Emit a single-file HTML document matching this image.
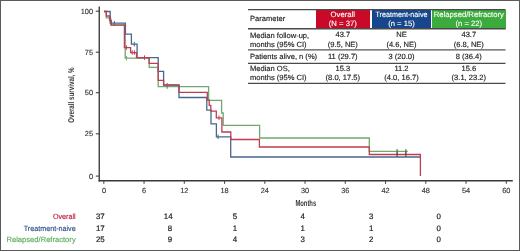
<!DOCTYPE html>
<html>
<head>
<meta charset="utf-8">
<style>
html,body{margin:0;padding:0;background:#fff;}
body{width:520px;height:251px;overflow:hidden;position:relative;}
svg{position:absolute;left:0;top:0;display:block;will-change:transform;}
text{font-family:"Liberation Sans",sans-serif;text-rendering:geometricPrecision;}
</style>
</head>
<body>
<svg width="520" height="251" viewBox="0 0 520 251">
  <rect x="0" y="0" width="520" height="251" fill="#fff"/>
  <!-- outer border -->
  <rect x="0.5" y="0.5" width="519" height="250" fill="none" stroke="#5a5a5a" stroke-width="1"/>

  <!-- axes -->
  <g stroke="#383838" fill="none">
    <line x1="99.25" y1="6.6" x2="99.25" y2="181.4" stroke-width="1.35"/>
    <line x1="98.6" y1="180.75" x2="512.8" y2="180.75" stroke-width="1.4"/>
  </g>
  <g stroke="#444" stroke-width="1.1" fill="none">
    <line x1="95.8" y1="11.2" x2="99" y2="11.2"/>
    <line x1="95.8" y1="52.2" x2="99" y2="52.2"/>
    <line x1="95.8" y1="92.7" x2="99" y2="92.7"/>
    <line x1="95.8" y1="133.8" x2="99" y2="133.8"/>
    <line x1="95.8" y1="176.1" x2="99" y2="176.1"/>
    <line x1="103.80" y1="181.2" x2="103.80" y2="183.8"/>
    <line x1="144.05" y1="181.2" x2="144.05" y2="183.8"/>
    <line x1="184.30" y1="181.2" x2="184.30" y2="183.8"/>
    <line x1="224.54" y1="181.2" x2="224.54" y2="183.8"/>
    <line x1="264.79" y1="181.2" x2="264.79" y2="183.8"/>
    <line x1="305.04" y1="181.2" x2="305.04" y2="183.8"/>
    <line x1="345.29" y1="181.2" x2="345.29" y2="183.8"/>
    <line x1="385.54" y1="181.2" x2="385.54" y2="183.8"/>
    <line x1="425.78" y1="181.2" x2="425.78" y2="183.8"/>
    <line x1="466.03" y1="181.2" x2="466.03" y2="183.8"/>
    <line x1="506.28" y1="181.2" x2="506.28" y2="183.8"/>
  </g>

  <!-- y tick labels -->
  <g font-size="7.4" fill="#333" stroke="#333" stroke-width="0.12" text-anchor="end">
    <text x="93" y="13.9">100</text>
    <text x="93" y="54.9">75</text>
    <text x="93" y="95.3">50</text>
    <text x="93" y="136.3">25</text>
    <text x="93" y="178.7">0</text>
  </g>
  <!-- x tick labels -->
  <g font-size="7.4" fill="#333" stroke="#333" stroke-width="0.12" text-anchor="middle">
    <text x="104" y="193.3">0</text>
    <text x="144" y="193.3">6</text>
    <text x="184.3" y="193.3">12</text>
    <text x="224.5" y="193.3">18</text>
    <text x="264.8" y="193.3">24</text>
    <text x="305" y="193.3">30</text>
    <text x="345.3" y="193.3">36</text>
    <text x="385.5" y="193.3">42</text>
    <text x="425.8" y="193.3">48</text>
    <text x="466" y="193.3">54</text>
    <text x="506.3" y="193.3">60</text>
  </g>

  <!-- axis titles -->
  <text x="0" y="0" font-size="8.4" font-weight="bold" fill="#3a3a3a" text-anchor="middle" transform="translate(74.2 95.1) rotate(-90) scale(0.745 1)">Overall survival, %</text>
  <text x="0" y="0" font-size="8.6" font-weight="bold" fill="#3a3a3a" text-anchor="middle" transform="translate(305.8 206.1) scale(0.68 1)">Months</text>

  <!-- KM curves -->
  <g fill="none" stroke-width="1.3" stroke-linejoin="miter">
    <path stroke="#70a870" d="M104,11.5 H106.3 V17.9 H110.6 V24.8 H125.2 V58.2 H149.2 V67.4 H158.2 V86.7 H208.6 V100.4 H221.6 V113 H223.2 V125.3 H259.6 V138 H369.3 V151.3 H407.8"/>
    <path stroke="#45698d" d="M104,11.5 H110.2 V23.2 H125.4 V34.2 H131.4 V44.2 H137.1 V57.6 H158.2 V71.4 H163.6 V85 H179 V97.5 H206.8 V110.2 H211 V123.9 H216.4 V136.8 H230.7 V157 H420"/>
    <path stroke="#bf3c54" d="M104,11.5 H106.3 V16 H109.6 V20.4 H111.4 V25.2 H124.4 V47.7 H130.6 V52.6 H136.5 V57.6 H149.1 V63.4 H158.2 V80.4 H163.6 V85.2 H179 V92.4 H207.3 V100.2 H209.2 V105.4 H210.8 V111.2 H216.3 V117.8 H221.9 V132 H230.8 V139.5 H259.4 V147 H369.3 V154.5 H420.4 V176"/>
  </g>
  <!-- censor ticks -->
  <g stroke-width="1">
    <g stroke="#70a870">
      <line x1="126.4" y1="56" x2="126.4" y2="60.4"/>
      <line x1="167.2" y1="84.6" x2="167.2" y2="89"/>
    </g>
    <g stroke="#3c5a3c">
      <line x1="397.1" y1="149.1" x2="397.1" y2="153.5"/>
      <line x1="405.9" y1="149.1" x2="405.9" y2="153.5"/>
    </g>
    <g stroke="#45698d">
      <line x1="114.4" y1="21" x2="114.4" y2="25.4"/>
      <line x1="134.3" y1="42" x2="134.3" y2="46.4"/>
      <line x1="218.1" y1="134.6" x2="218.1" y2="139"/>
    </g>
    <g stroke="#bf3c54">
      <line x1="126.4" y1="45.4" x2="126.4" y2="49.8"/>
            <line x1="132.2" y1="50.3" x2="132.2" y2="54.7"/>
      <line x1="134.4" y1="50.3" x2="134.4" y2="54.7"/>
      <line x1="144.5" y1="55.4" x2="144.5" y2="59.8"/>
      <line x1="167.2" y1="83" x2="167.2" y2="87.4"/>
      <line x1="219" y1="115.6" x2="219" y2="120"/>
      <line x1="397.1" y1="152.2" x2="397.1" y2="156.8" stroke="#6a2030"/>
      <line x1="405.9" y1="152.2" x2="405.9" y2="156.8" stroke="#6a2030"/>
    </g>
  </g>

  <!-- table -->
  <g shape-rendering="crispEdges">
    <rect x="315.5" y="9.5" width="54.5" height="19" fill="#c80a28"/>
    <rect x="372" y="9.5" width="59" height="19" fill="#16468c"/>
    <rect x="432" y="9.5" width="73.5" height="19" fill="#3caa3c"/>
  </g>
  <g stroke="#4a4a4a" fill="none">
    <line x1="248" y1="9.6" x2="505.5" y2="9.6" stroke-width="1.4"/>
    <line x1="248" y1="28.7" x2="505.5" y2="28.7" stroke-width="1.4"/>
    <line x1="248" y1="49.9" x2="505.5" y2="49.9" stroke-width="1.4" stroke="#555"/>
    <line x1="248" y1="63.4" x2="505.5" y2="63.4" stroke-width="1.2"/>
    <line x1="248" y1="83.4" x2="505.5" y2="83.4" stroke-width="1.3"/>
  </g>
  <g font-size="7.55" fill="#222" stroke="#222" stroke-width="0.15">
    <text x="250" y="20.7">Parameter</text>
    <text x="250" y="37.6">Median follow-up,</text>
    <text x="250" y="46.7">months (95% CI)</text>
    <text x="250" y="58.7">Patients alive, n (%)</text>
    <text x="250" y="70.8">Median OS,</text>
    <text x="250" y="80.2">months (95% CI)</text>
  </g>
  <g font-size="7.7" fill="#fff" stroke="#fff" stroke-width="0.12" text-anchor="middle">
    <text x="342.8" y="16.6">Overall</text>
    <text x="342.8" y="25.8">(N = 37)</text>
    <text x="401.5" y="16.6" textLength="52" lengthAdjust="spacingAndGlyphs">Treatment-naive</text>
    <text x="401.5" y="25.8">(n = 15)</text>
    <text x="468.8" y="16.6">Relapsed/Refractory</text>
    <text x="468.8" y="25.8">(n = 22)</text>
  </g>
  <g font-size="7.55" fill="#222" stroke="#222" stroke-width="0.15" text-anchor="middle">
    <text x="342.8" y="37.4">43.7</text>
    <text x="342.8" y="46.6">(9.5, NE)</text>
    <text x="401.5" y="37.4">NE</text>
    <text x="401.5" y="46.6">(4.6, NE)</text>
    <text x="468.8" y="37.4">43.7</text>
    <text x="468.8" y="46.6">(6.8, NE)</text>
    <text x="342.8" y="58.7">11 (29.7)</text>
    <text x="401.5" y="58.7">3 (20.0)</text>
    <text x="468.8" y="58.7">8 (36.4)</text>
    <text x="342.8" y="70.8">15.3</text>
    <text x="342.8" y="80.2">(8.0, 17.5)</text>
    <text x="401.5" y="70.8">11.2</text>
    <text x="401.5" y="80.2">(4.0, 16.7)</text>
    <text x="468.8" y="70.8">15.6</text>
    <text x="468.8" y="80.2">(3.1, 23.2)</text>
  </g>

  <!-- numbers at risk -->
  <g font-size="7.6" text-anchor="end" stroke-width="0.15">
    <text x="75.7" y="218.8" fill="#bc1f45" stroke="#bc1f45" textLength="22.8" lengthAdjust="spacingAndGlyphs">Overall</text>
    <text x="75.7" y="230.5" fill="#33508a" stroke="#33508a" textLength="52" lengthAdjust="spacingAndGlyphs">Treatment-naive</text>
    <text x="75.7" y="242.2" fill="#5cae5c" stroke="#5cae5c">Relapsed/Refractory</text>
  </g>
  <g font-size="7.9" fill="#222" stroke="#222" stroke-width="0.2" text-anchor="middle">
    <text x="100.3" y="218.8">37</text><text x="168.2" y="218.8">14</text><text x="235.0" y="218.8">5</text><text x="302.8" y="218.8">4</text><text x="371.2" y="218.8">3</text><text x="438.6" y="218.8">0</text>
    <text x="100.3" y="230.5">17</text><text x="169.85" y="230.5">8</text><text x="235.0" y="230.5">1</text><text x="302.8" y="230.5">1</text><text x="371.2" y="230.5">1</text><text x="438.6" y="230.5">0</text>
    <text x="100.3" y="242.2">25</text><text x="169.85" y="242.2">9</text><text x="235.0" y="242.2">4</text><text x="302.8" y="242.2">3</text><text x="371.2" y="242.2">2</text><text x="438.6" y="242.2">0</text>
  </g>
</svg>
</body>
</html>
